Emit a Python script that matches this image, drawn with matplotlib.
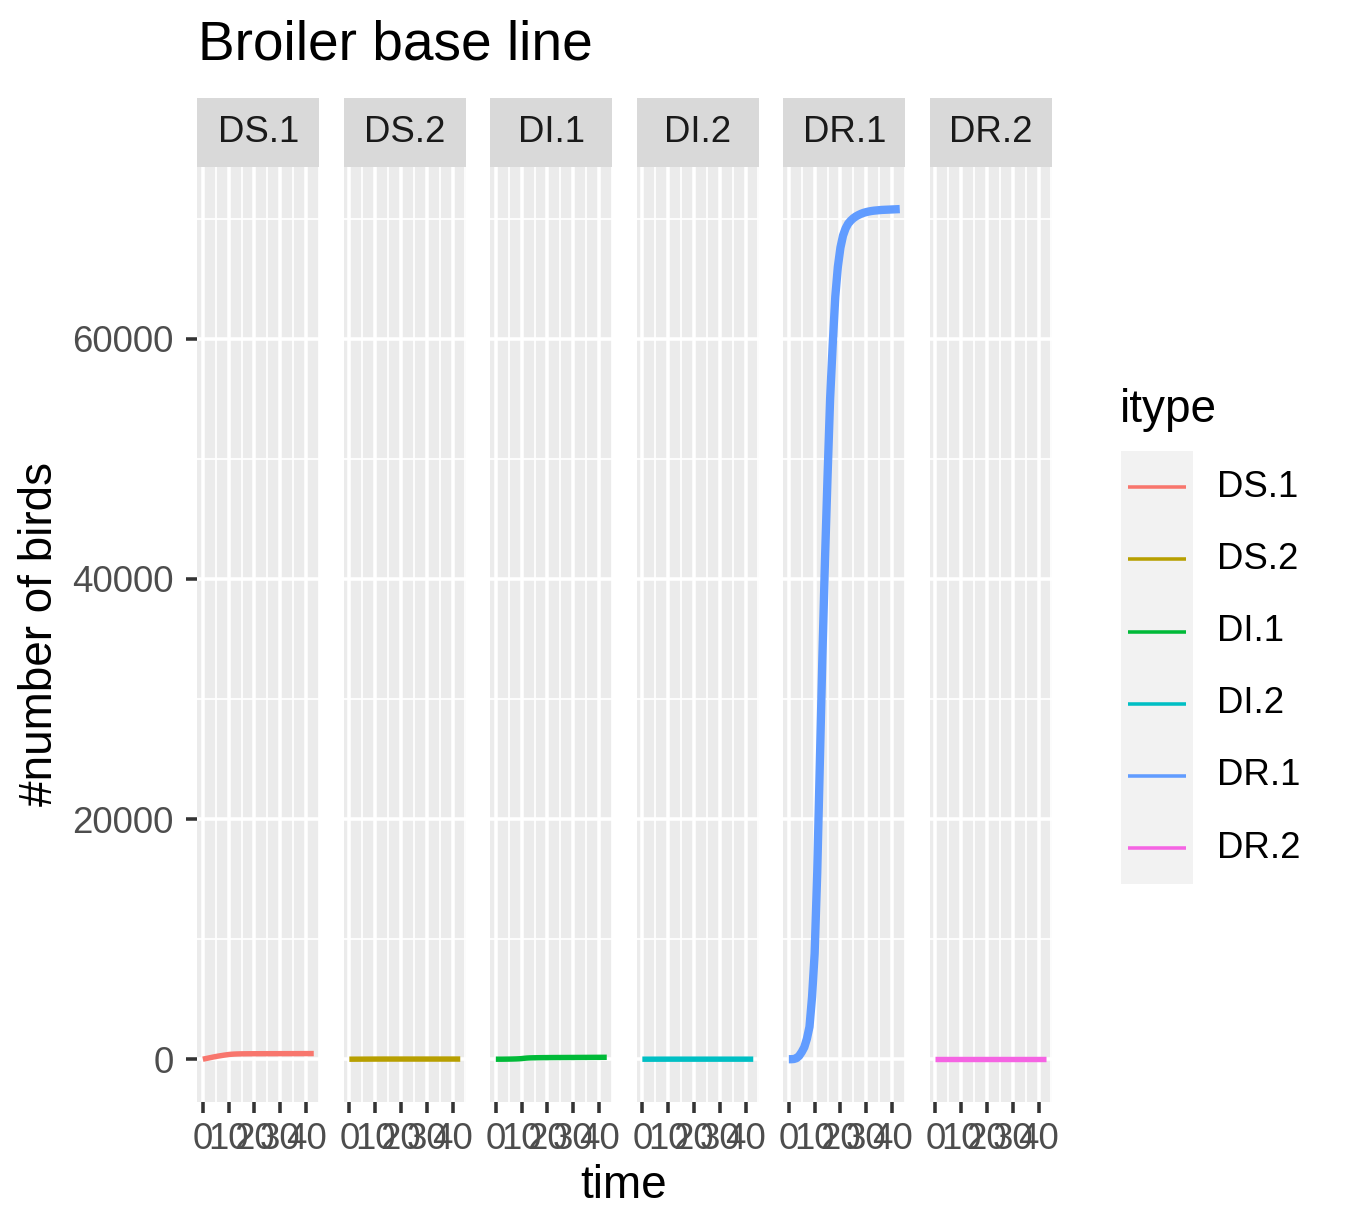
import matplotlib
matplotlib.use('Agg')
import matplotlib.pyplot as plt
from matplotlib.ticker import MultipleLocator

plt.rcParams['font.family'] = ['Liberation Sans', 'DejaVu Sans']

# facet / colour groups
panels = ['DS.1', 'DS.2', 'DI.1', 'DI.2', 'DR.1', 'DR.2']
colors = ['#F8766D', '#B79F00', '#00BA38', '#00BFC4', '#619CFF', '#F564E3']

time = [0, 1, 2, 3, 4, 5, 6, 7, 8, 9, 10, 11, 12, 13, 14, 15, 16, 17, 18, 19, 20, 21,
        22, 23, 24, 25, 26, 27, 28, 29, 30, 31, 32, 33, 34, 35, 36, 37, 38, 39, 40, 41, 42, 43]

ds1 = [0, 45, 90, 135, 180, 220, 260, 295, 330, 360, 390, 410, 425, 435, 442, 447, 450, 452,
       454, 455, 456, 457, 458, 459, 460, 460, 461, 461, 462, 462, 463, 463, 464, 464, 465,
       465, 466, 466, 467, 467, 468, 468, 469, 470]
ds2 = [0, 1, 2, 3, 4, 5, 6, 7, 8, 9, 10, 10, 11, 11, 12, 12, 12, 12, 12, 12, 12, 12, 12, 12,
       12, 12, 12, 12, 12, 12, 12, 12, 12, 12, 12, 12, 12, 12, 12, 12, 12, 12, 12, 12]
di1 = [0, 0, 0, 2, 5, 8, 12, 18, 25, 35, 50, 75, 95, 108, 115, 120, 124, 127, 130, 132, 134,
       136, 138, 139, 140, 141, 142, 143, 144, 145, 146, 147, 148, 149, 150, 151, 152, 153,
       154, 155, 156, 157, 158, 159]
di2 = [0, 0, 0, 0, 1, 1, 1, 2, 2, 2, 3, 3, 3, 3, 3, 3, 3, 3, 3, 3, 3, 3, 3, 3, 3, 3, 3, 3,
       3, 3, 3, 3, 3, 3, 3, 3, 3, 3, 3, 3, 3, 3, 3, 3]
dr1 = [0, 0, 20, 90, 280, 600, 1000, 1700, 2700, 5200, 8800, 15500, 24500, 33500, 41500,
       48500, 55000, 59500, 63500, 66000, 67600, 68600, 69200, 69600, 69850, 70050, 70200,
       70320, 70420, 70500, 70560, 70610, 70650, 70680, 70700, 70720, 70740, 70750, 70760,
       70770, 70780, 70790, 70800, 70810]
dr2 = [0, 0, 0, 0, 0, 0, 0, 0, 0, 0, 0, 0, 0, 0, 0, 0, 0, 0, 0, 0, 0, 0, 0, 0, 0, 0, 0, 0,
       0, 0, 0, 0, 0, 0, 0, 0, 0, 0, 0, 0, 0, 0, 0, 0]

series = [ds1, ds2, di1, di2, dr1, dr2]

x_ticks = [0, 10, 20, 30, 40]
x_labels = ['0', '10', '20', '30', '40']
y_ticks = [0, 20000, 40000, 60000]
y_labels = ['0', '20000', '40000', '60000']

W, H = 1345, 1231
fig = plt.figure(figsize=(W / 300, H / 300), dpi=300)

panel_left = 197.3
panel_w = 122
panel_step = 146.5
panel_top = 166.5
panel_bottom = 1101.7
strip_top = 98

grey_txt = '#4D4D4D'

for i, (name, vals, col) in enumerate(zip(panels, series, colors)):
    x0 = panel_left + i * panel_step
    ax = fig.add_axes([x0 / W, 1 - panel_bottom / H, panel_w / W, (panel_bottom - panel_top) / H])
    ax.set_facecolor('#EBEBEB')
    for s in ax.spines.values():
        s.set_visible(False)
    lw = 2.0 if name == 'DR.1' else 1.3
    ax.plot(time, vals, color=col, lw=lw, solid_capstyle='butt', zorder=3)
    ax.set_xlim(-2.15, 45.15)
    ax.set_ylim(-3540, 74358)
    ax.set_xticks(x_ticks)
    ax.set_xticklabels(x_labels)
    ax.xaxis.set_minor_locator(MultipleLocator(5))
    ax.set_yticks(y_ticks)
    ax.yaxis.set_minor_locator(MultipleLocator(10000))
    ax.grid(which='major', color='white', lw=0.85)
    ax.grid(which='minor', color='white', lw=0.42)
    ax.set_axisbelow(True)
    ax.tick_params(which='minor', length=0)
    ax.tick_params(which='major', length=2.6, width=0.85, color='#333333',
                   labelsize=8.8, labelcolor=grey_txt, pad=2.3)
    if i == 0:
        ax.set_yticklabels(y_labels)
        ax.tick_params(axis='y', pad=3)
    else:
        ax.tick_params(axis='y', left=False, labelleft=False)

    sax = fig.add_axes([x0 / W, 1 - panel_top / H, panel_w / W, (panel_top - strip_top) / H])
    sax.set_facecolor('#D9D9D9')
    sax.set_xticks([])
    sax.set_yticks([])
    for s in sax.spines.values():
        s.set_visible(False)
    sax.text(0.5, 0.5, name, ha='center', va='center', fontsize=8.8, color='#1A1A1A',
             transform=sax.transAxes)

# overlay in pixel coordinates for titles and legend
ov = fig.add_axes([0, 0, 1, 1], zorder=-1)
ov.set_xlim(0, W)
ov.set_ylim(H, 0)
ov.axis('off')

ov.text(198, 46, 'Broiler base line', fontsize=13.2, ha='left', va='center', color='black')
ov.text(624, 1186, 'time', fontsize=11, ha='center', va='center', color='black')
ov.text(40, 634, '#number of birds', fontsize=11, ha='center', va='center',
        rotation=90, color='black')

# legend
ov.text(1120, 410, 'itype', fontsize=11, ha='left', va='center', color='black')
key_top = 451
key_h = 72.2
ov.add_patch(plt.Rectangle((1121, key_top), 72, key_h * len(panels),
                           facecolor='#F2F2F2', edgecolor='none'))
for k, (name, col) in enumerate(zip(panels, colors)):
    yc = key_top + key_h * (k + 0.5)
    ov.plot([1128, 1186], [yc, yc], color=col, lw=0.85, solid_capstyle='butt')
    ov.text(1217, yc, name, fontsize=8.8, ha='left', va='center', color='black')

fig.savefig('out.png', dpi=300, facecolor='white')
